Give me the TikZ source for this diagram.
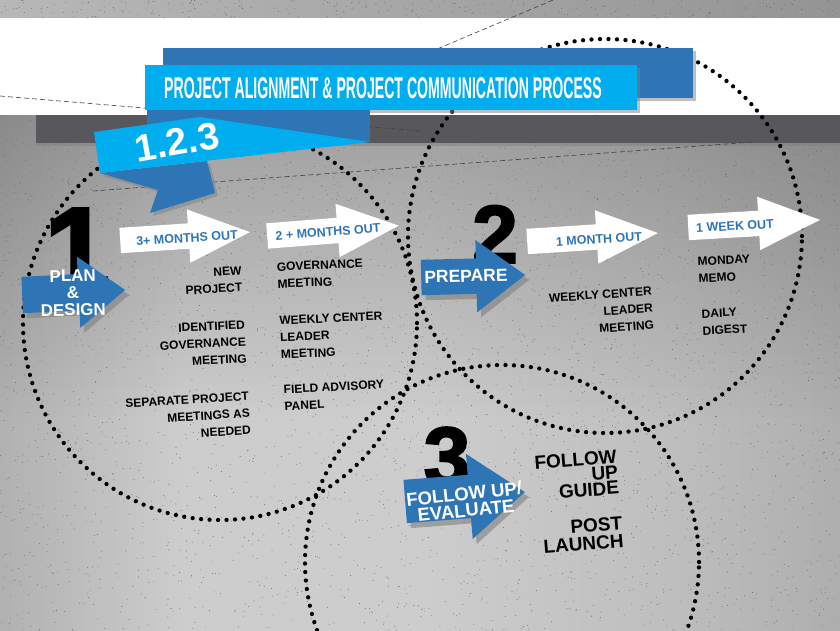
\documentclass[tikz,border=0pt]{standalone}
\usepackage{fontspec}
\setmainfont{Liberation Sans}
\newfontfamily\cifras{Liberation Sans}[BoldFeatures={FakeBold=2.5}]
\usepackage{graphicx}
\usetikzlibrary{shapes.arrows,shadows,fadings}

\definecolor{azulosc}{RGB}{46,117,182}
\definecolor{celeste}{RGB}{0,174,239}
\definecolor{barra}{RGB}{88,88,92}
\definecolor{gborde}{RGB}{115,115,115}
\definecolor{gmedio}{RGB}{164,164,164}
\definecolor{gclaro}{RGB}{205,205,205}
\definecolor{gdcho}{RGB}{190,190,190}
\definecolor{gfin}{RGB}{128,128,128}

\pgfdeclarehorizontalshading{fondo}{100bp}{%
  color(0bp)=(gborde); color(20bp)=(gmedio); color(36bp)=(gclaro);
  color(50bp)=(gclaro); color(65bp)=(gdcho); color(81bp)=(gmedio); color(100bp)=(gfin)}
\tikzfading[name=desvanece, top color=transparent!0, bottom color=transparent!100]

\tikzset{
  flecha/.style={shape=single arrow, inner sep=0pt, anchor=tail},
  blanca/.style={flecha, fill=white, text height=12.5pt, text depth=12.5pt,
    single arrow head extend=14pt, single arrow tip angle=47},
  azul/.style={flecha, fill=azulosc,
    drop shadow={opacity=0.6, shadow xshift=4pt, shadow yshift=-5pt}},
  rotulo/.style={text=azulosc, font=\bfseries\fontsize{12.5}{14}\selectfont, inner sep=0pt},
  paso/.style={text=white, font=\bfseries\fontsize{17}{17}\selectfont, align=center, inner sep=0pt},
  negro/.style={text=black, font=\bfseries\fontsize{12}{17}\selectfont, inner sep=0pt},
  grande/.style={text=black, font=\bfseries\fontsize{19}{15.5}\selectfont, inner sep=0pt, align=right},
  cifra/.style={text=black, inner sep=0pt, anchor=south},
  puntos/.style={line width=4.3pt, line cap=round, dash pattern=on 0pt off 8.5pt},
  rayas/.style={line width=0.6pt, black!75, dash pattern=on 5pt off 3pt}
}

\begin{document}
\begin{tikzpicture}[x=1pt,y=-1pt]
    \useasboundingbox (0,0) rectangle (840,630);

    % Fondo
    \shade[shading=fondo] (0,115) rectangle (840,630);
    \fill[black, opacity=0.22, path fading=desvanece] (0,115) rectangle (840,420);
    \shade[left color=black!28, right color=black!42] (0,0) rectangle (840,18);
    \fill[white] (0,18) rectangle (840,115);

    % Granulado
    \pgfmathsetseed{5}
    \foreach \k in {1,...,3200}
        \fill[black!60] (rnd*840, 115+rnd*515) circle[radius=0.45pt];
    \foreach \k in {1,...,250}
        \fill[black!60] (rnd*840, rnd*18) circle[radius=0.45pt];

    % Barra gris
    \fill[barra, drop shadow={opacity=0.5, shadow xshift=0pt, shadow yshift=-3pt}] (36,115) rectangle (840,143);

    % Lineas discontinuas
    \coordinate (d1a) at (0,96);
    \coordinate (d1b) at (420,131);
    \coordinate (d2a) at (553,0);
    \coordinate (d2b) at (430,52);
    \coordinate (d3a) at (93,191);
    \coordinate (d3b) at (753,142);
    \draw[rayas] (d1a) -- (d1b);
    \draw[rayas] (d2a) -- (d2b);
    \draw[rayas] (d3a) -- (d3b);

    % Circulos punteados
    \coordinate (c1) at (220,323);
    \coordinate (c2) at (605,236);
    \coordinate (c3) at (502,562);
    \foreach \c in {c1,c2,c3}
        \draw[puntos] (\c) circle[radius=197pt];

    % Titulo
    \node[fill=azulosc, minimum width=530pt, minimum height=50pt, anchor=north west,
        drop shadow={opacity=0.5, shadow xshift=3pt, shadow yshift=-3pt}] (fondotit) at (163,48) {};
    \node[fill=celeste, minimum width=492pt, minimum height=45pt, anchor=north west,
        drop shadow={opacity=0.5, shadow xshift=3pt, shadow yshift=-3pt}] (caja) at (145,65) {};
    \node[text=white, inner sep=0pt] (titulo) at (383,88)
        {\scalebox{0.47}[1]{\fontsize{30}{30}\selectfont\bfseries PROJECT ALIGNMENT \& PROJECT COMMUNICATION PROCESS}};

    % Cinta 1.2.3
    \fill[azulosc] (147,110) -- (370,110) -- (370,142) -- (147,142) -- cycle;
    \fill[azulosc, drop shadow={opacity=0.5, shadow xshift=3pt, shadow yshift=-3pt}]
        (100,173) -- (207,161) -- (215,193) -- (150,213) -- (158,190) -- cycle;
    \fill[celeste] (94,132) -- (200,117) -- (370,142) -- (100,173) -- cycle;
    \node[text=white, inner sep=0pt, rotate=10, font=\bfseries\fontsize{38}{38}\selectfont] (cinta) at (177,142) {1.2.3};

    % Numeros
    \node[cifra, font=\cifras\bfseries\fontsize{118}{118}\selectfont] (n1) at (77,290) {1};
    \node[cifra, font=\cifras\bfseries\fontsize{82}{82}\selectfont] (n2) at (495,263) {2};
    \node[cifra, font=\cifras\bfseries\fontsize{84}{84}\selectfont] (n3) at (447,487) {3};

    % Flechas azules
    \node[azul, text height=18pt, text depth=18pt, single arrow head extend=17.5pt,
        single arrow tip angle=75, minimum height=103pt, rotate=2.8] (plan) at (22,295) {};
    \node[paso, rotate=1] (tplan) at (73,293) {PLAN\\\&\\DESIGN};
    \node[azul, text height=17.5pt, text depth=17.5pt, single arrow head extend=18.5pt,
        single arrow tip angle=73, minimum height=104pt, rotate=1.4] (prep) at (421,277.5) {};
    \node[paso, rotate=1.5, font=\bfseries\fontsize{17.5}{17}\selectfont] (tprep) at (466,276) {PREPARE};
    \node[azul, text height=21.5pt, text depth=21.5pt, single arrow head extend=21pt,
        single arrow tip angle=75, minimum height=120pt, rotate=4.5] (segui) at (405,501.5) {};
    \node[paso, rotate=6, font=\bfseries\fontsize{18.5}{16.5}\selectfont] (tsegui) at (465,502) {FOLLOW UP/\\EVALUATE};

    % Flechas blancas
    \node[blanca, minimum height=130pt, rotate=3.7] (m3) at (120,240.5) {};
    \node[rotulo, rotate=3.7] (tm3) at (187,238) {3+ MONTHS OUT};
    \node[blanca, minimum height=132pt, rotate=4.5] (m2) at (267,236) {};
    \node[rotulo, rotate=4.5] (tm2) at (328,232) {2 + MONTHS OUT};
    \node[blanca, minimum height=131pt, rotate=3.7] (m1) at (527,241.5) {};
    \node[rotulo, rotate=3.7] (tm1) at (599,239) {1 MONTH OUT};
    \node[blanca, minimum height=132pt, rotate=3.3] (s1) at (688,227.5) {};
    \node[rotulo, rotate=3.3] (ts1) at (735,226) {1 WEEK OUT};

    % Textos
    \node[negro, align=right, anchor=east, rotate=3] (nuevo) at (242,279) {NEW\\PROJECT};
    \node[negro, align=right, anchor=east, rotate=3] (ident) at (246,341.5) {IDENTIFIED\\GOVERNANCE\\MEETING};
    \node[negro, align=right, anchor=east, rotate=3.5] (separ) at (250,413) {SEPARATE PROJECT\\MEETINGS AS\\NEEDED};
    \node[negro, align=left, anchor=west, rotate=2.5] (gob) at (277,275.5) {GOVERNANCE\\MEETING};
    \node[negro, align=left, anchor=west, rotate=2.5] (sem) at (280,337.5) {WEEKLY CENTER\\LEADER\\MEETING};
    \node[negro, align=left, anchor=west, rotate=3] (campo) at (284,398) {FIELD ADVISORY\\PANEL};
    \node[negro, align=right, anchor=east, rotate=4] (sem2) at (653,308) {WEEKLY CENTER\\LEADER\\MEETING};
    \node[negro, align=left, anchor=west, rotate=3] (lunes) at (698,270) {MONDAY\\MEMO};
    \node[negro, align=left, anchor=west, rotate=3] (diario) at (702,322.5) {DAILY\\DIGEST};
    \node[grande, anchor=east, rotate=4.5] (guia) at (618,472) {FOLLOW\\UP\\GUIDE};
    \node[grande, anchor=east, rotate=4.5, font=\bfseries\fontsize{19}{18}\selectfont] (post) at (623,532) {POST\\LAUNCH};
\end{tikzpicture}
\end{document}
